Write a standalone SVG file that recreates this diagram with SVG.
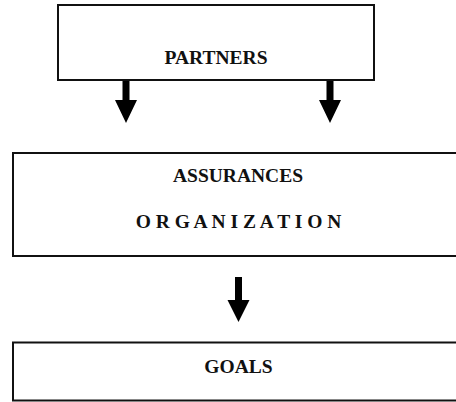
<svg xmlns="http://www.w3.org/2000/svg" width="456" height="402" viewBox="0 0 456 402">
<style>
.box{fill:#fff;stroke:#111;stroke-width:2}
.t{font-family:"Liberation Serif","Times New Roman",serif;font-weight:bold;font-size:19.5px;fill:#111;text-anchor:middle}
.arr{fill:#000}
</style>
<rect width="456" height="402" fill="#fff"/>
<g id="partners">
<rect class="box" x="58" y="5" width="316" height="75"/>
<text class="t" x="216" y="64">PARTNERS</text>
</g>
<g id="assurances">
<rect class="box" x="13" y="153" width="450" height="103"/>
<text class="t" x="238" y="181.5">ASSURANCES</text>
<text class="t" x="238.5" y="228">O R G A N I Z A T I O N</text>
</g>
<g id="goals">
<rect class="box" x="13" y="342.5" width="450" height="58"/>
<text class="t" x="238.5" y="372.5">GOALS</text>
</g>
<g id="connectors">
<path class="arr" d="M122.5 81H129.5V100H137L126 123L115 100H122.5Z"/>
<path class="arr" d="M326.5 81H333.5V100H341L330 123L319 100H326.5Z"/>
<path class="arr" d="M235 277H242V300H249.5L238.5 322L227.5 300H235Z"/>
</g>
</svg>
